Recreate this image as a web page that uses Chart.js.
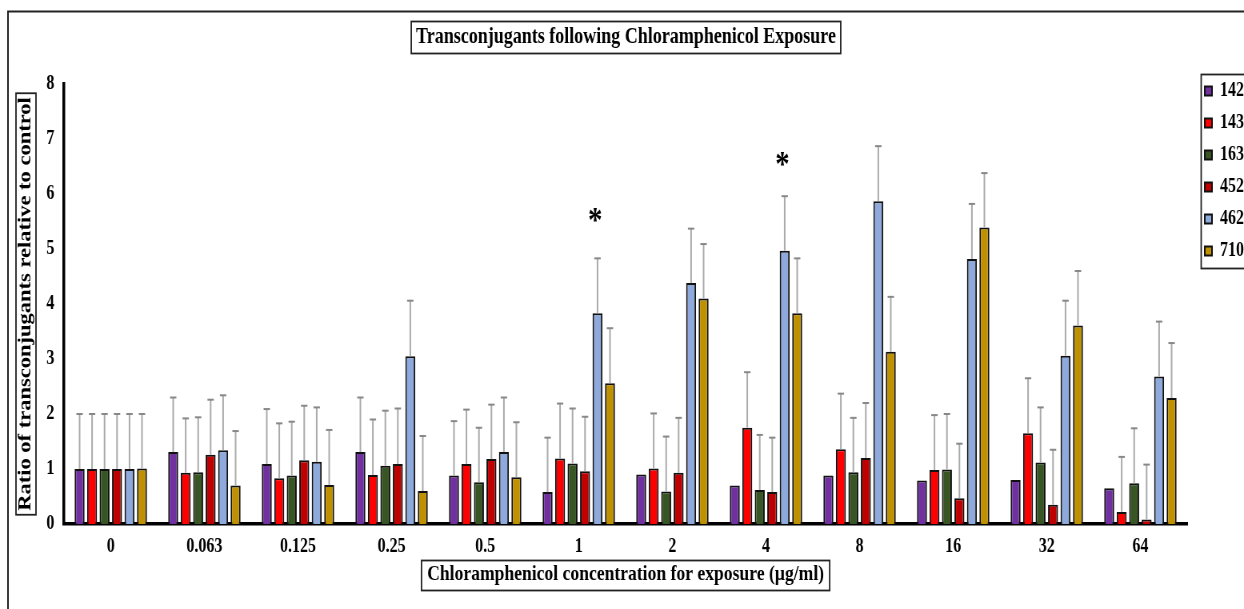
<!DOCTYPE html>
<html>
<head>
<meta charset="utf-8">
<script src="https://cdn.jsdelivr.net/npm/chart.js@4/dist/chart.umd.min.js"></script>
<style>
  html, body { margin: 0; padding: 0; background: #fff; width: 1244px; height: 609px; overflow: hidden; }
  /* the original figure is horizontally condensed; draw wide, squeeze to 80% */
  #wrap { width: 1555px; height: 609px; transform: scaleX(0.8); transform-origin: 0 0; }
</style>
</head>
<body>
<div id="wrap"><canvas id="chart"></canvas></div>
<script>
const categories = ['0', '0.063', '0.125', '0.25', '0.5', '1', '2', '4', '8', '16', '32', '64']
const yTicks = [0, 1, 2, 3, 4, 5, 6, 7, 8]

const s142 = [1.00, 1.31, 1.09, 1.31, 0.88, 0.58, 0.90, 0.70, 0.88, 0.79, 0.80, 0.65]
const s143 = [1.00, 0.93, 0.83, 0.89, 1.09, 1.19, 1.01, 1.75, 1.36, 0.98, 1.65, 0.22]
const s163 = [1.00, 0.94, 0.88, 1.06, 0.76, 1.10, 0.59, 0.62, 0.94, 0.99, 1.12, 0.74]
const s452 = [1.00, 1.26, 1.16, 1.09, 1.18, 0.96, 0.93, 0.58, 1.20, 0.47, 0.35, 0.08]
const s462 = [1.00, 1.34, 1.13, 3.05, 1.31, 3.83, 4.38, 4.97, 5.87, 4.82, 3.06, 2.68]
const s710 = [1.01, 0.70, 0.71, 0.60, 0.85, 2.56, 4.10, 3.83, 3.13, 5.39, 3.61, 2.29]

// upper error bar lengths (null = no bar)
const e142 = [1.00, 0.99, 1.00, 0.99, 0.99, 0.99, null, null, null, null, null, null]
const e143 = [1.00, 0.99, 1.00, 1.01, 0.99, 1.00, 1.00, 1.01, 1.01, 1.00, 1.00, 1.00]
const e163 = [1.00, 1.00, 0.98, 1.00, 0.99, 1.00, 1.00, 1.00, 0.99, 1.01, 1.00, 1.00]
const e452 = [1.00, 1.00, 0.99, 1.01, 0.99, 0.99, 1.00, 0.99, 1.00, 0.99, 1.00, 1.00]
const e462 = [1.00, 1.00, 0.99, 1.01, 0.99, 1.00, 0.99, 0.99, 1.00, 1.00, 1.00, 1.00]
const e710 = [0.99, 0.99, 1.00, 1.00, 1.00, 1.00, 0.99, 1.00, 1.00, 0.99, 0.99, 1.00]

// significance markers, drawn above the 462 bar
const stars = [null, null, null, null, null, 5.62, null, 6.65, null, null, null, null]

const serif = '"Liberation Serif", "Times New Roman", serif'

const series = [
    { label: '142', data: s142, err: e142, color: '#7030A0' },
    { label: '143', data: s143, err: e143, color: '#FF0000' },
    { label: '163', data: s163, err: e163, color: '#375623' },
    { label: '452', data: s452, err: e452, color: '#C00000' },
    { label: '462', data: s462, err: e462, color: '#8EA9DB' },
    { label: '710', data: s710, err: e710, color: '#BF9000' }
]

const errorBars = {
    id: 'errorBars',
    afterDatasetsDraw(chart) {
        const ctx = chart.ctx
        const y = chart.scales.y
        ctx.save()
        chart.data.datasets.forEach((ds, i) => {
            const meta = chart.getDatasetMeta(i)
            meta.data.forEach((bar, j) => {
                const e = ds.err[j]
                if (e == null) return
                const top = y.getPixelForValue(ds.data[j] + e)
                ctx.strokeStyle = '#AAAAAA'
                ctx.lineWidth = 2
                ctx.beginPath()
                ctx.moveTo(bar.x, bar.y)
                ctx.lineTo(bar.x, top)
                ctx.stroke()
                ctx.strokeStyle = '#888888'
                ctx.beginPath()
                ctx.moveTo(bar.x - 4, top)
                ctx.lineTo(bar.x + 4, top)
                ctx.stroke()
            })
        })
        const meta462 = chart.getDatasetMeta(4)
        ctx.fillStyle = '#000'
        ctx.font = 'bold 36px ' + serif
        ctx.textAlign = 'center'
        ctx.textBaseline = 'middle'
        stars.forEach((v, j) => {
            if (v == null) return
            ctx.fillText('*', meta462.data[j].x - 3, y.getPixelForValue(v) + 8)
        })
        ctx.restore()
    }
}

const boxes = {
    id: 'boxes',
    afterDraw(chart) {
        const ctx = chart.ctx
        const area = chart.chartArea
        const o = chart.options
        ctx.save()
        ctx.strokeStyle = '#222'
        ctx.lineWidth = 2
        // outer frame
        ctx.strokeRect(10, 11.5, chart.width + 20, chart.height + 20)
        ctx.lineWidth = 1.8
        // title box
        ctx.font = 'bold 22.5px ' + serif
        let w = ctx.measureText(o.plugins.title.text).width
        const t = chart.titleBlock
        const tc = (t.left + t.right) / 2
        ctx.strokeRect(tc - w / 2 - 6, 21.5, w + 12, 32)
        // x title box
        ctx.font = 'bold 22px ' + serif
        w = ctx.measureText(o.scales.x.title.text).width
        const xc = (area.left + area.right) / 2
        ctx.strokeRect(xc - w / 2 - 7, 560.5, w + 14, 30)
        // y title box
        ctx.font = 'bold 22.5px ' + serif
        w = ctx.measureText(o.scales.y.title.text).width
        const yc = (area.top + area.bottom) / 2
        const ys = chart.scales.y
        const ycx = ys.left + o.scales.y.title.padding.top + 13.5
        ctx.strokeRect(ycx - 12.5, yc - w / 2 - 4, 25, w + 8)
        // legend box
        const lg = chart.legend
        ctx.strokeRect(lg.left + 7.5, 74.5, 80, 194)
        ctx.restore()
    }
}

new Chart(document.getElementById('chart'), {
    type: 'bar',
    data: {
        labels: categories,
        datasets: series.map(s => ({
            label: s.label,
            data: s.data,
            err: s.err,
            backgroundColor: s.color,
            borderColor: '#111',
            borderWidth: 2,
            categoryPercentage: 0.8,
            barPercentage: 0.8
        }))
    },
    options: {
        responsive: true,
        maintainAspectRatio: false,
        animation: false,
        layout: { padding: { top: 0, left: 10, right: 0, bottom: 0 } },
        plugins: {
            title: {
                display: true,
                text: 'Transconjugants following Chloramphenicol Exposure',
                color: '#000',
                font: { family: serif, size: 22.5, weight: 'bold' },
                padding: { top: 24, bottom: 33 }
            },
            legend: {
                position: 'right',
                align: 'start',
                maxWidth: 61,
                title: {
                    display: true,
                    text: ' ',
                    font: { size: 20 },
                    padding: { top: 45, bottom: 0 }
                },
                labels: {
                    color: '#000',
                    boxWidth: 9,
                    boxHeight: 9,
                    padding: 12,
                    font: { family: serif, size: 20, weight: 'bold' }
                }
            },
            tooltip: { enabled: false }
        },
        scales: {
            x: {
                grid: { display: false, drawTicks: false },
                border: { color: '#000', width: 3.5 },
                ticks: {
                    color: '#000',
                    padding: 11,
                    font: { family: serif, size: 20, weight: 'bold' }
                },
                title: {
                    display: true,
                    text: 'Chloramphenicol concentration for exposure (\u00b5g/ml)',
                    color: '#000',
                    font: { family: serif, size: 22, weight: 'bold' },
                    padding: { top: 0, bottom: 21 }
                },
                afterFit(scale) {
                    scale.height = 85
                }
            },
            y: {
                min: 0,
                max: 8,
                afterBuildTicks(scale) {
                    scale.ticks = yTicks.map(v => ({ value: v }))
                },
                grid: { display: false, drawTicks: false },
                border: { color: '#000', width: 3.5 },
                ticks: {
                    color: '#000',
                    padding: 12,
                    font: { family: serif, size: 20, weight: 'bold' }
                },
                title: {
                    display: true,
                    text: 'Ratio of transconjugants relative to control',
                    color: '#000',
                    font: { family: serif, size: 22.5, weight: 'bold' },
                    padding: { top: 9, bottom: 0 }
                }
            },
            gap: {
                position: 'right',
                min: 0,
                max: 8,
                grid: { display: false, drawTicks: false },
                border: { display: false },
                ticks: { display: false },
                afterFit(scale) {
                    scale.width = 10
                }
            }
        }
    },
    plugins: [errorBars, boxes]
})
</script>
</body>
</html>
